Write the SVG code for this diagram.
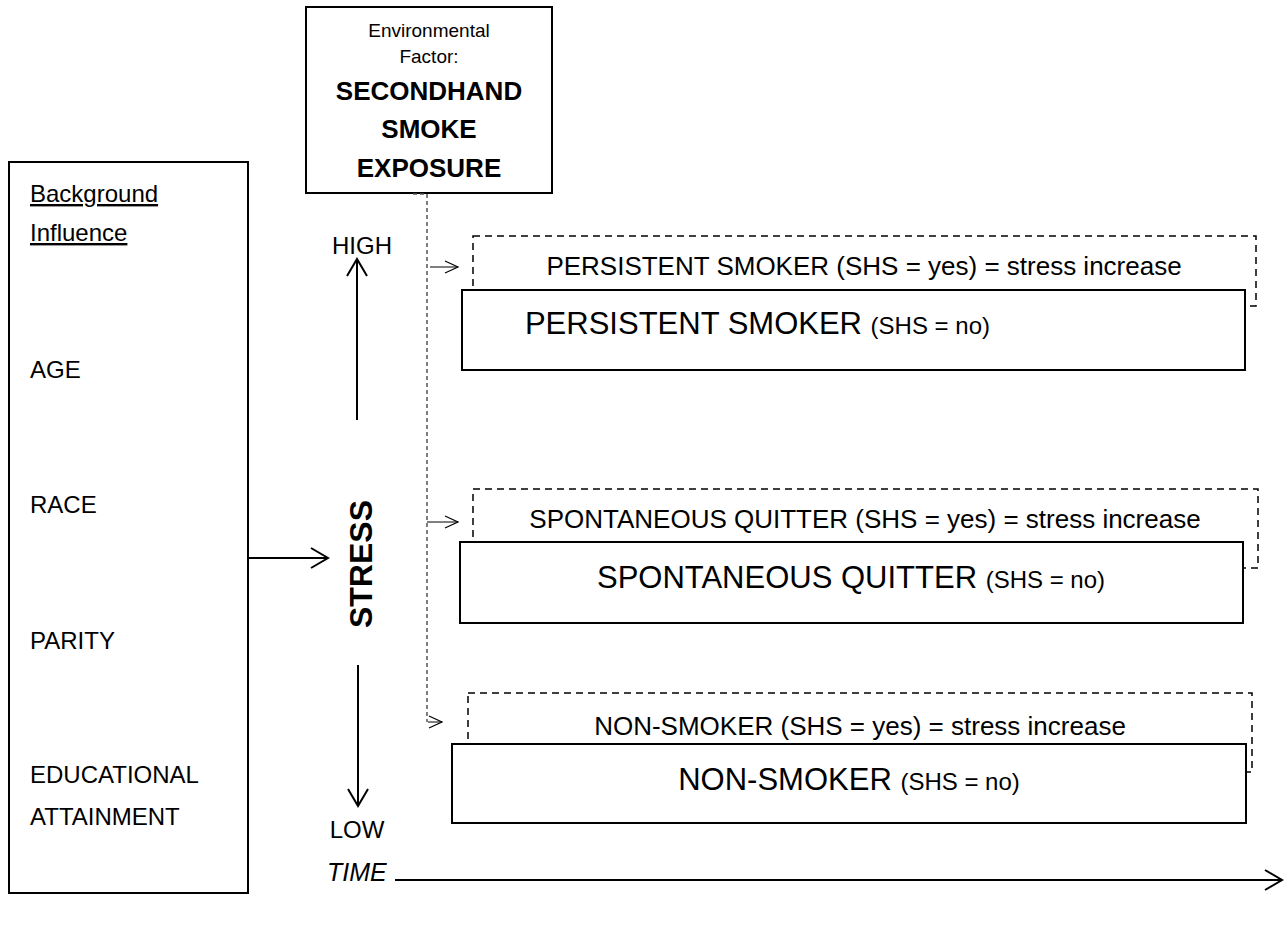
<svg xmlns="http://www.w3.org/2000/svg" width="1288" height="946" viewBox="0 0 1288 946">
<style>
text{font-family:"Liberation Sans",Arial,sans-serif;fill:#000}
.box{fill:#fff;stroke:#000;stroke-width:2}
.dbox{fill:#fff;stroke:#000;stroke-width:1.5;stroke-dasharray:7 5}
.yes{font-size:26px;text-anchor:middle}
.big{font-size:31px}
.sm{font-size:24px}
.lbl{font-size:24px}
.env{font-size:19px;text-anchor:middle}
.envb{font-size:26px;font-weight:bold;text-anchor:middle}
.arr{stroke:#000;stroke-width:2;fill:none}
.thin{stroke:#000;stroke-width:1;fill:none}
.conn{stroke:#555;stroke-width:1.5;stroke-dasharray:4 3;fill:none}
</style>
<defs>
<marker id="ah" markerUnits="userSpaceOnUse" markerWidth="22" markerHeight="24" refX="19" refY="12" orient="auto">
<path d="M2,2 L19,12 L2,22" fill="none" stroke="#000" stroke-width="2"/>
</marker>
<marker id="ahs" markerUnits="userSpaceOnUse" markerWidth="16" markerHeight="16" refX="14" refY="8" orient="auto">
<path d="M1,2 L14,8 L1,14" fill="none" stroke="#000" stroke-width="1.2"/>
</marker>
</defs>

<g id="background">
<rect class="box" x="9" y="162" width="239" height="731"/>
<text class="lbl" x="30" y="202" text-decoration="underline">Background</text>
<text class="lbl" x="30" y="241" text-decoration="underline">Influence</text>
<text class="lbl" x="30" y="378">AGE</text>
<text class="lbl" x="30" y="513">RACE</text>
<text class="lbl" x="30" y="649">PARITY</text>
<text class="lbl" x="30" y="783">EDUCATIONAL</text>
<text class="lbl" x="30" y="825">ATTAINMENT</text>
</g>

<g id="environment">
<rect class="box" x="306" y="7" width="246" height="186"/>
<text class="env" x="429" y="37">Environmental</text>
<text class="env" x="429" y="63">Factor:</text>
<text class="envb" x="429" y="100">SECONDHAND</text>
<text class="envb" x="429" y="138">SMOKE</text>
<text class="envb" x="429" y="177">EXPOSURE</text>
</g>

<g id="stress">
<text x="372" y="564" transform="rotate(-90 372 564)" text-anchor="middle" font-size="32" font-weight="bold">STRESS</text>
<text class="lbl" x="362" y="254" text-anchor="middle">HIGH</text>
<text class="lbl" x="357" y="838" text-anchor="middle">LOW</text>
</g>

<g id="time">
<text x="327" y="881" font-size="25" font-style="italic">TIME</text>
</g>

<g id="persistent-yes">
<rect class="dbox" x="473" y="236" width="783" height="70"/>
<text class="yes" x="864" y="275">PERSISTENT SMOKER (SHS = yes) = stress increase</text>
</g>
<g id="persistent-no">
<rect class="box" x="462" y="290" width="783" height="80"/>
<text x="990" y="334" text-anchor="end"><tspan class="big">PERSISTENT SMOKER </tspan><tspan class="sm">(SHS = no)</tspan></text>
</g>

<g id="quitter-yes">
<rect class="dbox" x="473" y="489" width="785" height="79"/>
<text class="yes" x="865" y="528">SPONTANEOUS QUITTER (SHS = yes) = stress increase</text>
</g>
<g id="quitter-no">
<rect class="box" x="460" y="542" width="783" height="81"/>
<text x="851" y="588" text-anchor="middle"><tspan class="big">SPONTANEOUS QUITTER </tspan><tspan class="sm">(SHS = no)</tspan></text>
</g>

<g id="nonsmoker-yes">
<rect class="dbox" x="468" y="693" width="784" height="79"/>
<text class="yes" x="860" y="735">NON-SMOKER (SHS = yes) = stress increase</text>
</g>
<g id="nonsmoker-no">
<rect class="box" x="452" y="744" width="794" height="79"/>
<text x="849" y="790" text-anchor="middle"><tspan class="big">NON-SMOKER </tspan><tspan class="sm">(SHS = no)</tspan></text>
</g>

<g id="connectors">
<line class="arr" x1="248" y1="558" x2="328" y2="558" marker-end="url(#ah)"/>
<line class="arr" x1="357" y1="420" x2="357" y2="259" marker-end="url(#ah)"/>
<line class="arr" x1="358" y1="665" x2="358" y2="806" marker-end="url(#ah)"/>
<line class="arr" x1="395" y1="880" x2="1282" y2="880" marker-end="url(#ah)"/>
<path class="conn" d="M413,194 H427 V722"/>
<line class="thin" x1="430" y1="267" x2="458" y2="267" marker-end="url(#ahs)"/>
<line class="thin" x1="427" y1="522" x2="458" y2="522" marker-end="url(#ahs)"/>
<line class="thin" x1="428" y1="722" x2="442" y2="722" marker-end="url(#ahs)"/>
</g>
</svg>
